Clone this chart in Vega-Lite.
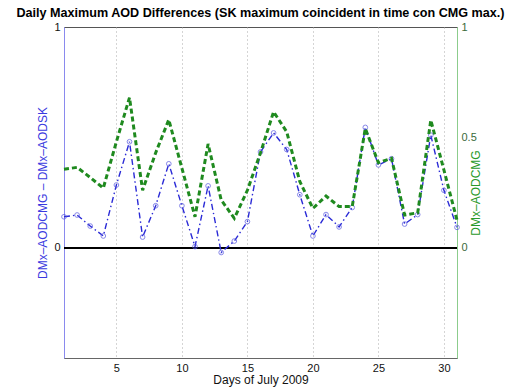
{
  "$schema": "https://vega.github.io/schema/vega-lite/v6.json",
  "autosize": "none",
  "padding": {"left": 64, "top": 27, "right": 54, "bottom": 31},
  "width": 393,
  "height": 331,
  "background": "white",
  "title": {
    "text": "Daily Maximum AOD Differences (SK maximum coincident in time con CMG max.)",
    "font": "Liberation Sans",
    "fontSize": 12.6,
    "fontWeight": "bold",
    "color": "black",
    "anchor": "middle",
    "offset": 1
  },
  "config": {
    "font": "Liberation Sans",
    "view": {"stroke": "#555", "strokeWidth": 1},
    "axis": {"labelFont": "Liberation Sans", "titleFont": "Liberation Sans", "labelFontSize": 11, "titleFontSize": 12, "titleFontWeight": "normal", "labelColor": "#111", "ticks": false, "labelPadding": 4, "format": "~g"}
  },
  "data": {
    "values": [
      {"day": 1, "sk": 0.14, "cmg": 0.355},
      {"day": 2, "sk": 0.148, "cmg": 0.364},
      {"day": 3, "sk": 0.098, "cmg": 0.318},
      {"day": 4, "sk": 0.053, "cmg": 0.27},
      {"day": 5, "sk": 0.284, "cmg": 0.48},
      {"day": 6, "sk": 0.48, "cmg": 0.68},
      {"day": 7, "sk": 0.048, "cmg": 0.26},
      {"day": 8, "sk": 0.19, "cmg": 0.43},
      {"day": 9, "sk": 0.38, "cmg": 0.58},
      {"day": 10, "sk": 0.19, "cmg": 0.36},
      {"day": 11, "sk": 0.005, "cmg": 0.14},
      {"day": 12, "sk": 0.28, "cmg": 0.47},
      {"day": 13, "sk": -0.022, "cmg": 0.216},
      {"day": 14, "sk": 0.03, "cmg": 0.133},
      {"day": 15, "sk": 0.118, "cmg": 0.26},
      {"day": 16, "sk": 0.434, "cmg": 0.43},
      {"day": 17, "sk": 0.52, "cmg": 0.616},
      {"day": 18, "sk": 0.445, "cmg": 0.525},
      {"day": 19, "sk": 0.24, "cmg": 0.3},
      {"day": 20, "sk": 0.053, "cmg": 0.178},
      {"day": 21, "sk": 0.15, "cmg": 0.234},
      {"day": 22, "sk": 0.094, "cmg": 0.186},
      {"day": 23, "sk": 0.182, "cmg": 0.186},
      {"day": 24, "sk": 0.545, "cmg": 0.54},
      {"day": 25, "sk": 0.375, "cmg": 0.385},
      {"day": 26, "sk": 0.403, "cmg": 0.405},
      {"day": 27, "sk": 0.107, "cmg": 0.148},
      {"day": 28, "sk": 0.15, "cmg": 0.158},
      {"day": 29, "sk": 0.51, "cmg": 0.578},
      {"day": 30, "sk": 0.26, "cmg": 0.352},
      {"day": 31, "sk": 0.092, "cmg": 0.125}
    ]
  },
  "encoding": {
    "x": {
      "field": "day", "type": "quantitative",
      "scale": {"domain": [1, 31], "nice": false, "zero": false},
      "axis": {"values": [5, 10, 15, 20, 25, 30], "title": "Days of July 2009", "titlePadding": 1, "grid": true, "gridDash": [1, 3], "gridColor": "#aaa", "domainColor": "#666", "labelColor": "#111", "titleColor": "#111"}
    }
  },
  "layer": [
    {
      "layer": [
        {
          "mark": {"type": "rule", "color": "black", "strokeWidth": 1.3},
          "encoding": {"y": {"datum": 0, "type": "quantitative", "scale": {"domain": [-0.5, 1], "nice": false}}, "x": {}}
        },
        {
          "mark": {"type": "line", "color": "#2a2ad6", "strokeWidth": 1.4, "strokeDash": [6, 3, 1.5, 3]},
          "encoding": {
            "y": {
              "field": "sk", "type": "quantitative",
              "scale": {"domain": [-0.5, 1], "nice": false},
              "axis": {"orient": "left", "values": [0, 1], "title": "DMx–AODCMG – DMx–AODSK", "titleColor": "#3a3ae0", "titlePadding": 4, "grid": false, "domainColor": "#8a8aee", "labelColor": "#111"}
            }
          }
        },
        {
          "mark": {"type": "point", "shape": "circle", "filled": false, "color": "#5555e0", "size": 22, "strokeWidth": 1},
          "encoding": {"y": {"field": "sk", "type": "quantitative", "scale": {"domain": [-0.5, 1], "nice": false}}}
        }
      ]
    },
    {
      "mark": {"type": "line", "color": "#1f8a1f", "strokeWidth": 3, "strokeDash": [5, 3]},
      "encoding": {
        "y": {
          "field": "cmg", "type": "quantitative",
          "scale": {"domain": [-0.5, 1], "nice": false},
          "axis": {"orient": "right", "values": [0, 0.5, 1], "title": "DMx–AODCMG", "titleAngle": 270, "titleColor": "#2a9a2a", "titlePadding": 6, "grid": false, "domainColor": "#8ccc8c", "labelColor": "#3a6a3a"}
        }
      }
    }
  ],
  "resolve": {"scale": {"y": "independent"}}
}
